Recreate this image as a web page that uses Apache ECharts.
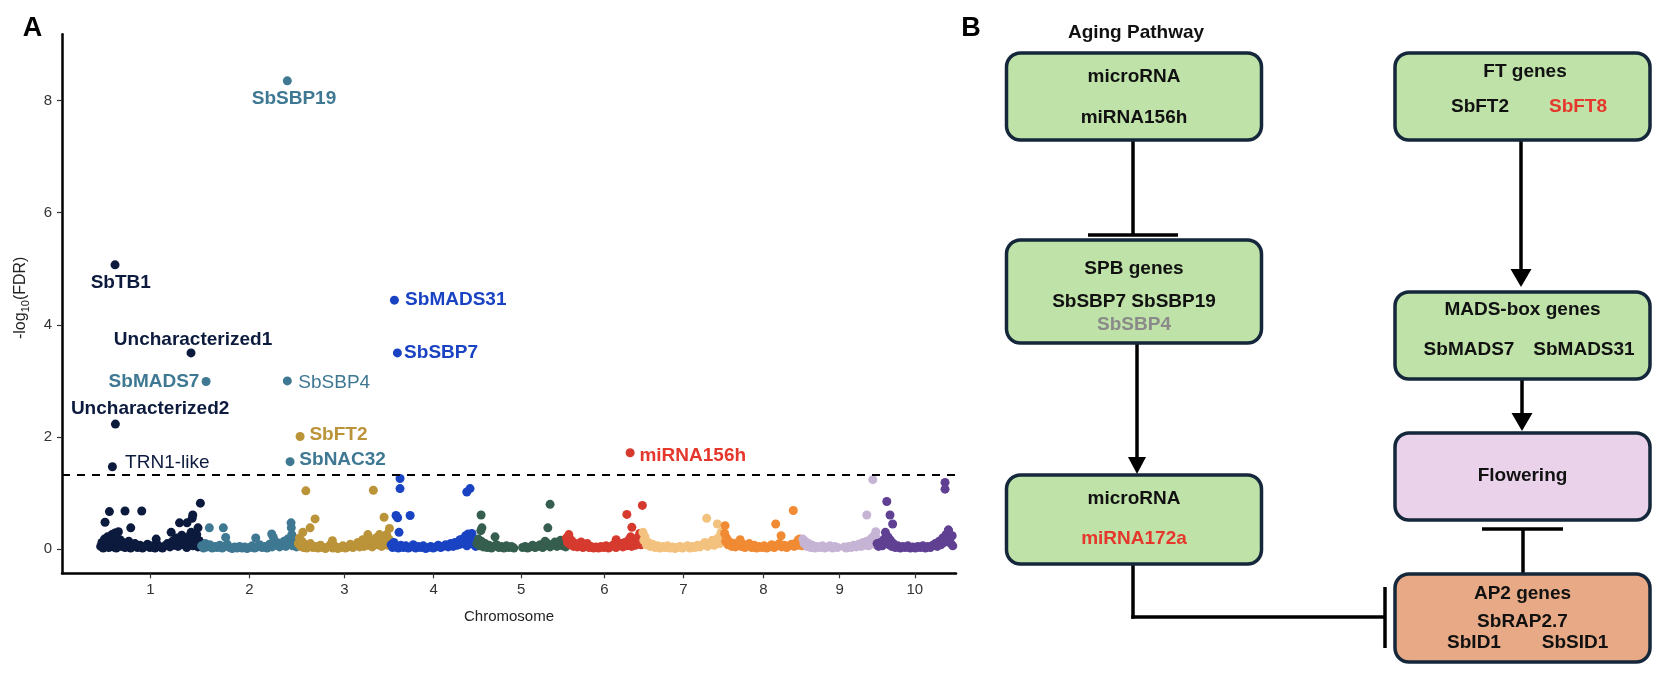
<!DOCTYPE html>
<html><head><meta charset="utf-8">
<script src="https://cdn.jsdelivr.net/npm/echarts@6/dist/echarts.min.js"></script>
<style>html,body{margin:0;padding:0;background:#fff}#c{width:1672px;height:686px}</style>
</head><body><div id="c"></div>
<script>
// ---------------- DATA ----------------
const chromNames = ['1','2','3','4','5','6','7','8','9','10'];
const chromLengths = [80.88, 77.74, 74.39, 68.66, 71.85, 61.28, 65.51, 62.69, 59.42, 61.23]; // Mb
const chromColors = ['#0c1b3d','#3e7892','#bb9338','#1a43c3','#355e4e','#d63a2f','#f3c27f','#f08a33','#c6b4d5','#604092'];

// [position within chromosome (Mb), -log10(FDR)]
const chr1 = [[0.5,0.05],[1.5,0.12],[2.5,0.02],[3.5,0.18],[5,0.08],[6,0.22],[7,0.03],[8.5,0.1],[9.5,0.26],[10.5,0.04],[11.5,0.15],[13,0.02],[14,0.09],[16,0.17],[17,0.05],[18.5,0.12],[20,0.03],[21.5,0.08],[23,0.14],[24.5,0.02],[26,0.06],[28,0.1],[30,0.03],[32,0.07],[34,0.02],[36,0.05],[38,0.09],[40,0.03],[42,0.06],[44,0.02],[46,0.08],[48,0.04],[50,0.02],[52,0.06],[54,0.1],[56,0.04],[58,0.14],[59.5,0.07],[61,0.2],[62.5,0.05],[64,0.12],[65.5,0.25],[67,0.08],[68,0.16],[69.5,0.03],[71,0.22],[72,0.1],[73,0.3],[74.5,0.06],[75.5,0.18],[76.5,0.12],[77.5,0.26],[78.5,0.04],[79.5,0.15],[80.5,0.08],
  [4,0.48],[7.5,0.67],[12,0.29],[14.7,0.31],[20,0.68],[24.6,0.38],[33.4,0.68],[45,0.18],[57,0.30],[63.7,0.47],[69.7,0.47],[73.8,0.55],[74.3,0.61],[78.5,0.38],[80.4,0.82]];
const chr2 = [[0.5,0.06],[2,0.02],[3.5,0.1],[5,0.04],[7,0.08],[9,0.02],[11,0.05],[13,0.03],[15,0.07],[17,0.02],[19,0.05],[21,0.09],[23,0.03],[25,0.01],[27,0.04],[29,0.02],[31,0.05],[33,0.02],[35,0.04],[37,0.01],[39,0.03],[41,0.06],[43,0.02],[45,0.04],[47,0.08],[49,0.03],[51,0.05],[53,0.02],[55,0.09],[57,0.04],[59,0.07],[61,0.12],[63,0.04],[65,0.08],[66.5,0.14],[68,0.05],[69.5,0.18],[71,0.1],[72.5,0.22],[73.5,0.06],[74.5,0.16],[75.5,0.09],[76.5,0.04],[77.5,0.11],
  [6.7,0.38],[17.9,0.38],[19.8,0.21],[43.9,0.2],[56.7,0.27],[58,0.21],[72.2,0.47],[72.4,0.38],[72.8,0.26]];
const chr3 = [[0.3,0.1],[1.2,0.2],[2.2,0.05],[3.2,0.14],[4.5,0.03],[5.5,0.09],[7,0.02],[8.5,0.06],[10,0.1],[12,0.03],[14,0.05],[16,0.02],[18,0.07],[20,0.03],[22,0.01],[24,0.04],[26,0.08],[28,0.02],[30,0.05],[32,0.01],[34,0.03],[36,0.06],[38,0.02],[40,0.04],[42,0.09],[44,0.03],[46,0.06],[48,0.12],[49.5,0.04],[51,0.1],[53,0.05],[54.5,0.14],[56,0.07],[58,0.16],[59.5,0.04],[61,0.12],[62.5,0.2],[64,0.08],[65.5,0.16],[67,0.05],[68,0.22],[69.5,0.11],[71,0.26],[72,0.07],[73,0.18],[74,0.1],
  [6.3,1.04],[60.4,1.05],[13.7,0.54],[9.7,0.38],[3.9,0.3],[69,0.57],[73.3,0.37],[65.3,0.26],[56,0.26],[51.9,0.17],[27.6,0.15]];
const chr4 = [[0.3,0.08],[1.5,0.03],[2.5,0.12],[4,0.05],[6,0.02],[8,0.07],[10,0.03],[12,0.06],[14,0.02],[16,0.04],[18,0.08],[20,0.02],[22,0.05],[24,0.03],[26,0.06],[28,0.01],[30,0.03],[32,0.05],[34,0.02],[36,0.04],[38,0.07],[40,0.03],[42,0.05],[44,0.08],[46,0.04],[48,0.1],[50,0.05],[51.5,0.12],[53,0.07],[54.5,0.14],[56,0.09],[57.5,0.18],[59,0.11],[60,0.24],[61,0.06],[62.5,0.2],[63.5,0.12],[65,0.28],[66,0.09],[67,0.16],[68,0.05],
  [7.4,1.26],[7.4,1.08],[4.2,0.6],[5.5,0.56],[15.5,0.6],[6.6,0.3],[60.9,1.02],[63.5,1.08],[62,0.27],[55.5,0.17]];
const chr5 = [[0.3,0.1],[1.5,0.18],[2.5,0.06],[4,0.14],[5.5,0.04],[7,0.1],[8.5,0.03],[10,0.07],[12,0.02],[14,0.05],[16,0.08],[18,0.03],[20,0.05],[22,0.02],[24,0.06],[26,0.03],[28,0.05],[30,0.02],[37,0.03],[39,0.05],[41,0.02],[43,0.04],[45,0.07],[47,0.03],[49,0.05],[51,0.08],[53,0.03],[55,0.06],[57,0.1],[59,0.04],[61,0.08],[63,0.13],[64.5,0.05],[66,0.1],[67.5,0.16],[69,0.06],[70.5,0.12],[71.5,0.04],
  [3.7,0.61],[4.4,0.38],[3.5,0.33],[14.9,0.22],[59,0.8],[57.2,0.38],[55,0.14]];
const chr6 = [[0.3,0.2],[1.2,0.12],[2.2,0.26],[3.5,0.08],[4.5,0.15],[6,0.05],[7.5,0.1],[9,0.04],[10.5,0.08],[12,0.13],[13.5,0.03],[15,0.06],[17,0.1],[18.5,0.03],[20,0.05],[22,0.02],[24,0.04],[26,0.02],[28,0.05],[30,0.03],[32,0.06],[34,0.02],[36,0.05],[38,0.08],[40,0.03],[42,0.06],[44,0.1],[45.5,0.04],[47,0.12],[48.5,0.06],[50,0.16],[51,0.09],[52.5,0.05],[54,0.14],[55.5,0.07],[57,0.2],[58,0.1],[59,0.28],[60,0.08],[61,0.15],
  [61.1,0.78],[48.7,0.62],[52.7,0.39],[40.1,0.17],[51.7,0.22],[3.2,0.18]];
const chr7 = [[0.3,0.3],[1,0.16],[2,0.22],[3,0.08],[4.5,0.12],[6,0.05],[8,0.09],[10,0.03],[12,0.06],[14,0.02],[16,0.05],[18,0.03],[20,0.06],[22,0.02],[24,0.04],[26,0.01],[28,0.03],[30,0.05],[32,0.02],[34,0.04],[36,0.06],[38,0.02],[40,0.05],[42,0.03],[44,0.07],[46,0.04],[48,0.08],[50,0.12],[52,0.05],[54,0.1],[56,0.16],[57.5,0.07],[59,0.13],[60.5,0.2],[62,0.1],[63,0.3],[64,0.14],[65,0.22],
  [51.4,0.55],[59.9,0.45],[62.6,0.26]];
const chr8 = [[0.3,0.28],[1,0.14],[1.8,0.2],[3,0.08],[4.5,0.13],[6,0.05],[7.5,0.1],[9,0.04],[10.5,0.08],[12,0.14],[13.5,0.05],[15,0.09],[16.5,0.03],[18,0.06],[20,0.1],[22,0.03],[24,0.07],[26,0.02],[28,0.05],[30,0.03],[32,0.06],[34,0.02],[36,0.04],[38,0.08],[40,0.03],[42,0.06],[44,0.1],[46,0.04],[48,0.07],[50,0.03],[52,0.06],[54,0.09],[56,0.05],[58,0.12],[59.5,0.07],[60.5,0.18],[61.5,0.1],[62.5,0.06],
  [0.6,0.42],[55.3,0.69],[41.2,0.45],[45.5,0.24],[12.7,0.17],[59.4,0.17]];
const chr9 = [[0.3,0.18],[1.2,0.1],[2.2,0.14],[3.5,0.05],[5,0.1],[6.5,0.03],[8,0.07],[10,0.02],[12,0.05],[14,0.03],[16,0.06],[18,0.02],[20,0.04],[22,0.06],[24,0.02],[26,0.05],[28,0.03],[33.5,0.04],[35,0.02],[37,0.05],[39,0.03],[41,0.07],[43,0.04],[45,0.09],[47,0.05],[48.5,0.12],[50,0.07],[51.5,0.14],[53,0.06],[54.5,0.18],[55.5,0.1],[56.5,0.22],[57.5,0.14],[58.5,0.08],[59.3,0.2],
  [56.3,1.24],[51.5,0.61],[58.7,0.31],[57.8,0.24]];
const chr10 = [[0.3,0.1],[1.5,0.05],[3,0.12],[4.5,0.06],[6,0.18],[7,0.3],[8,0.14],[9,0.22],[10,0.08],[11,0.16],[12,0.05],[13.5,0.1],[15,0.03],[17,0.06],[19,0.02],[21,0.05],[23,0.03],[25,0.06],[27,0.02],[29,0.04],[31,0.02],[33,0.05],[35,0.03],[37,0.06],[39,0.02],[41,0.05],[43,0.03],[45,0.07],[47,0.1],[48.5,0.05],[50,0.14],[51.5,0.08],[53,0.2],[54,0.12],[55.5,0.26],[56.5,0.16],[57.5,0.34],[58.5,0.2],[59.5,0.1],[60.5,0.24],[61,0.06],
  [8.1,0.85],[10.7,0.61],[12.8,0.45],[54.8,1.19],[54.8,1.07],[57.5,0.34],[9.4,0.2]];
const chromPoints = [chr1, chr2, chr3, chr4, chr5, chr6, chr7, chr8, chr9, chr10];

// highlighted genes
const geneNames = ['SbTB1','Uncharacterized1','Uncharacterized2','TRN1-like','SbMADS7','SbSBP19','SbSBP4','SbNAC32','SbFT2','SbMADS31','SbSBP7','miRNA156h'];
const geneChrom = [1,1,1,1,2,2,2,2,3,4,4,6];
const genePos   = [12.0,72.9,12.3,9.9,4.1,69.2,69.2,71.4,1.7,2.9,5.3,51.3];
const geneValue = [5.07,3.50,2.23,1.47,2.99,8.35,3.00,1.56,2.01,4.44,3.50,1.72];

const fdrThreshold = 1.33;
const yTicks = [0,2,4,6,8];

// pathway diagram text
const agingTitle = 'Aging Pathway';
const boxMiR156 = ['microRNA','miRNA156h'];
const boxSPB = ['SPB genes','SbSBP7 SbSBP19','SbSBP4'];
const boxMiR172 = ['microRNA','miRNA172a'];
const boxFT = ['FT genes','SbFT2','SbFT8'];
const boxMADS = ['MADS-box genes','SbMADS7','SbMADS31'];
const boxFlower = ['Flowering'];
const boxAP2 = ['AP2 genes','SbRAP2.7','SbID1','SbSID1'];

// ---------------- STYLE / LAYOUT ----------------
const FONT = '"Liberation Sans", Arial, Helvetica, sans-serif';
const labelStyle = {
  'SbTB1':            {dx:5.7, dy:18, align:'center', bold:true},
  'Uncharacterized1': {dx:2, dy:-12.7, align:'center', bold:true},
  'Uncharacterized2': {dx:34.7, dy:-15.7, align:'center', bold:true},
  'TRN1-like':        {dx:12.7, dy:-4, align:'left', bold:false},
  'SbMADS7':          {dx:-6.7, dy:0.4, align:'right', bold:true},
  'SbSBP19':          {dx:6.7, dy:18, align:'center', bold:true},
  'SbSBP4':           {dx:11, dy:2.3, align:'left', bold:false},
  'SbNAC32':          {dx:9.3, dy:-2, align:'left', bold:true},
  'SbFT2':            {dx:9.3, dy:-1.7, align:'left', bold:true},
  'SbMADS31':         {dx:10.7, dy:0, align:'left', bold:true},
  'SbSBP7':           {dx:6.7, dy:0, align:'left', bold:true},
  'miRNA156h':        {dx:9.3, dy:3.3, align:'left', bold:true}
};
const DOT = 9;

const offsets = [];
let acc = 0;
chromLengths.forEach(l => { offsets.push(acc); acc += l; });
const centers = chromLengths.map((l, i) => offsets[i] + l / 2);

const series = chromPoints.map((pts, i) => ({
  type: 'scatter', name: 'chr' + chromNames[i],
  symbolSize: DOT, silent: true,
  itemStyle: {color: chromColors[i], opacity: 1},
  data: pts.map(p => [offsets[i] + p[0], p[1]])
}));
series[0].markLine = {
  silent: true, symbol: 'none', label: {show: false},
  lineStyle: {color: '#000', width: 2, type: [8, 7], opacity: 1},
  data: [{yAxis: fdrThreshold}]
};
series.push({
  type: 'scatter', name: 'genes', symbolSize: DOT, z: 5, silent: true,
  itemStyle: {opacity: 1},
  data: geneNames.map((n, i) => {
    const s = labelStyle[n];
    const col = chromColors[geneChrom[i] - 1];
    return {
      name: n,
      value: [offsets[geneChrom[i] - 1] + genePos[i], geneValue[i]],
      itemStyle: {color: col, opacity: 1},
      label: {
        show: true, formatter: n,
        position: [DOT / 2 + s.dx, DOT / 2 + s.dy],
        align: s.align, verticalAlign: 'middle',
        color: n === 'miRNA156h' ? '#e5372b' : col, opacity: 1,
        fontFamily: FONT, fontSize: 19, fontWeight: s.bold ? 'bold' : 'normal'
      }
    };
  })
});

// diagram layout
const LX = 1134, RX = 1522.5, BW = 255;
const BOX_STROKE = '#15273a', GREEN = '#bfe2a8', PINK = '#ead2eb', PEACH = '#e8aa86';
const g = [];
function rect(x, y, w, h, fill) {
  g.push({type: 'rect', shape: {x, y, width: w, height: h, r: 14}, style: {fill, stroke: BOX_STROKE, lineWidth: 3.5}, z: 10});
}
function txt(t, x, y, color, size) {
  g.push({type: 'text', x, y, style: {text: t, align: 'center', verticalAlign: 'middle', fill: color || '#111', font: 'bold ' + (size || 19) + 'px ' + FONT}, z: 12});
}
function line(x1, y1, x2, y2) {
  g.push({type: 'line', shape: {x1, y1, x2, y2}, style: {stroke: '#000', lineWidth: 3.5}, z: 8});
}
function head(x, yBase, yTip, w) {
  g.push({type: 'polygon', shape: {points: [[x - w / 2, yBase], [x + w / 2, yBase], [x, yTip]]}, style: {fill: '#000'}, z: 8});
}
// panel letters
g.push({type: 'text', x: 32.5, y: 28.5, style: {text: 'A', align: 'center', verticalAlign: 'middle', fill: '#000', font: 'bold 27px ' + FONT}});
g.push({type: 'text', x: 971, y: 28.5, style: {text: 'B', align: 'center', verticalAlign: 'middle', fill: '#000', font: 'bold 27px ' + FONT}});
txt(agingTitle, 1136, 33);
// left column
rect(LX - BW / 2, 53, BW, 87, GREEN);
txt(boxMiR156[0], LX, 77); txt(boxMiR156[1], LX, 118);
line(1133, 140, 1133, 235); line(1088, 235, 1178, 235);
rect(LX - BW / 2, 240, BW, 103, GREEN);
txt(boxSPB[0], LX, 269); txt(boxSPB[1], LX, 302); txt(boxSPB[2], LX, 325, '#8a8a8a');
line(1137, 343, 1137, 460); head(1137, 457, 474, 18);
rect(LX - BW / 2, 475, BW, 89, GREEN);
txt(boxMiR172[0], LX, 499); txt(boxMiR172[1], LX, 539, '#e5372b');
line(1133, 564, 1133, 618.75); line(1131.25, 617, 1385, 617); line(1385, 587, 1385, 648);
// right column
rect(RX - BW / 2, 53, BW, 87, GREEN);
txt(boxFT[0], 1525, 72); txt(boxFT[1], 1480, 107); txt(boxFT[2], 1578, 107, '#e5372b');
line(1521, 140, 1521, 272); head(1521, 269, 287, 21);
rect(RX - BW / 2, 292, BW, 87, GREEN);
txt(boxMADS[0], RX, 310); txt(boxMADS[1], 1469, 350); txt(boxMADS[2], 1584, 350);
line(1522, 379, 1522, 416); head(1522, 413, 431, 21);
rect(RX - BW / 2, 433, BW, 87, PINK);
txt(boxFlower[0], RX, 476);
line(1523, 574, 1523, 529); line(1482, 529, 1563, 529);
rect(RX - BW / 2, 574, BW, 88, PEACH);
txt(boxAP2[0], RX, 594); txt(boxAP2[1], RX, 622); txt(boxAP2[2], 1474, 643); txt(boxAP2[3], 1575, 643);

const chart = echarts.init(document.getElementById('c'), null, {renderer: 'canvas'});
chart.setOption({
  animation: false,
  backgroundColor: '#fff',
  grid: {left: 62, right: 716, top: 34.3, bottom: 112.7, containLabel: false},
  xAxis: {
    type: 'value', min: -30.5, max: 686,
    name: 'Chromosome', nameLocation: 'middle', nameGap: 36,
    nameTextStyle: {fontFamily: FONT, fontSize: 15, color: '#222'},
    axisLine: {show: true, onZero: false, lineStyle: {color: '#000', width: 2.5}},
    axisTick: {show: true, length: 5, lineStyle: {color: '#333', width: 1.2}, customValues: centers},
    axisLabel: {customValues: centers, margin: 9, fontFamily: FONT, fontSize: 15, color: '#333',
      formatter: v => { let bi = 0, bd = 1e9; centers.forEach((c, i) => { const d = Math.abs(c - v); if (d < bd) { bd = d; bi = i; } }); return chromNames[bi]; }},
    splitLine: {show: false}
  },
  yAxis: {
    type: 'value', min: -0.43, max: 9.18,
    name: '-log{s|10}(FDR)', nameLocation: 'middle', nameGap: 31, nameRotate: 90,
    nameTextStyle: {fontFamily: FONT, fontSize: 16, color: '#222', lineHeight: 20, padding: [0, 0, 0, 12],
      rich: {s: {fontFamily: FONT, fontSize: 11, color: '#222', lineHeight: 10, verticalAlign: 'bottom'}}},
    axisLine: {show: true, onZero: false, lineStyle: {color: '#000', width: 2.5}},
    axisTick: {show: true, length: 5, lineStyle: {color: '#333', width: 1.2}, customValues: yTicks},
    axisLabel: {customValues: yTicks, margin: 10, fontFamily: FONT, fontSize: 15, color: '#333'},
    splitLine: {show: false}
  },
  series: series,
  graphic: g
});
</script>
</body></html>
